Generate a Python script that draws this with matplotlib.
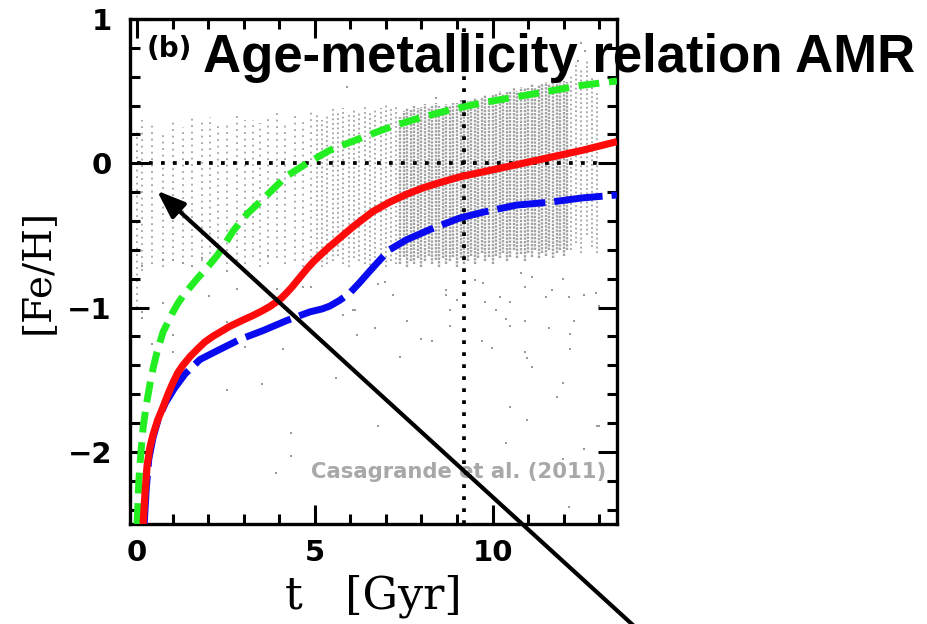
import numpy as np
import matplotlib
matplotlib.use("Agg")
import matplotlib.pyplot as plt
from matplotlib.ticker import MultipleLocator

# model age-metallicity relations, t [Gyr] vs [Fe/H]
green_t = [0.0, 0.05, 0.1, 0.17, 0.27, 0.37, 0.46, 0.56, 0.73, 0.87, 1.01, 1.15, 1.29, 1.49,
           1.69, 1.87, 2.05, 2.25, 2.42, 2.7, 3.1, 3.4, 3.74, 4.2, 4.78, 5.42, 6.35, 7.0, 7.75,
           8.8, 9.72, 10.67, 11.6, 12.5, 13.5]
green_feh = [-2.5, -2.2, -2.03, -1.83, -1.66, -1.52, -1.41, -1.31, -1.17, -1.1, -1.03, -0.97,
             -0.92, -0.86, -0.8, -0.75, -0.7, -0.64, -0.58, -0.47, -0.35, -0.28, -0.2, -0.09,
             0.0, 0.09, 0.18, 0.24, 0.30, 0.37, 0.42, 0.46, 0.50, 0.54, 0.57]

red_t = [0.17, 0.22, 0.28, 0.36, 0.45, 0.58, 0.73, 0.87, 1.01, 1.15, 1.29, 1.49, 1.69, 1.9,
         2.13, 2.61, 2.95, 3.26, 3.5, 3.72, 3.9, 4.06, 4.2, 4.35, 4.5, 4.65, 4.8, 4.97, 5.14,
         5.38, 5.62, 6.1, 6.63, 7.1, 7.58, 8.05, 8.5, 9.07, 9.72, 10.67, 11.6, 12.53, 13.5]
red_feh = [-2.5, -2.3, -2.1, -1.97, -1.88, -1.78, -1.69, -1.6, -1.52, -1.45, -1.4, -1.34,
           -1.29, -1.24, -1.2, -1.13, -1.09, -1.055, -1.025, -0.995, -0.965, -0.935, -0.9,
           -0.86, -0.815, -0.77, -0.725, -0.68, -0.64, -0.585, -0.535, -0.435, -0.335, -0.27,
           -0.215, -0.17, -0.135, -0.095, -0.06, -0.01, 0.04, 0.09, 0.15]

blue_t = [0.2, 0.26, 0.33, 0.45, 0.6, 0.8, 1.05, 1.35, 1.77, 2.33, 2.9, 3.54, 4.21, 4.86, 5.2,
          5.42, 5.7, 5.98, 6.25, 6.5, 6.83, 7.1, 7.58, 8.23, 9.07, 9.72, 10.67, 11.6, 12.53,
          13.5]
blue_feh = [-2.5, -2.25, -2.05, -1.9, -1.77, -1.66, -1.56, -1.46, -1.36, -1.29, -1.22, -1.16,
            -1.09, -1.03, -1.01, -0.99, -0.95, -0.9, -0.83, -0.76, -0.67, -0.6, -0.53, -0.46,
            -0.38, -0.34, -0.29, -0.27, -0.24, -0.22]

# Casagrande et al. (2011) stars, binned in age: column extent in [Fe/H]
sparse_t = [0.0, 0.14, 0.42, 0.73, 1.01, 1.29, 1.55, 1.82, 2.05, 2.28, 2.53, 2.81, 3.03, 3.26,
            3.46, 3.68, 3.93, 4.16, 4.44, 4.66, 4.9]
sparse_hi = [0.22, 0.3, 0.28, 0.22, 0.3, 0.25, 0.33, 0.3, 0.32, 0.28, 0.27, 0.33, 0.3, 0.3,
             0.28, 0.32, 0.35, 0.28, 0.33, 0.3, 0.36]
sparse_lo = [-1.0, -0.75, -0.7, -0.72, -0.68, -0.7, -0.65, -0.68, -0.72, -0.66, -0.7, -0.68,
             -0.7, -0.65, -0.72, -0.7, -0.66, -0.7, -0.68, -0.72, -0.7]

mid_t = [5.05, 5.2, 5.35, 5.5, 5.65, 5.8, 5.95, 6.1, 6.25, 6.4, 6.55, 6.7, 6.85, 7.0, 7.15,
         7.28]
mid_hi = [0.35, 0.3, 0.33, 0.4, 0.36, 0.38, 0.34, 0.37, 0.36, 0.4, 0.35, 0.37, 0.38, 0.42,
          0.39, 0.4]
mid_lo = [-0.66, -0.72, -0.7, -0.68, -0.64, -0.7, -0.72, -0.66, -0.68, -0.7, -0.74, -0.66,
          -0.7, -0.72, -0.68, -0.7]

dense_t = [7.4, 7.5, 7.6, 7.7, 7.8, 7.9, 8.0, 8.1, 8.2, 8.3, 8.4, 8.5, 8.6, 8.7, 8.8, 8.9,
           9.0, 9.1, 9.2, 9.3, 9.4, 9.5, 9.6, 9.7, 9.8, 9.9, 10.0, 10.1, 10.2, 10.3, 10.4, 10.5,
           10.6, 10.7, 10.8, 10.9, 11.0, 11.1, 11.2, 11.3, 11.4, 11.5, 11.6, 11.7, 11.8, 11.9,
           12.0, 12.1]
dense_hi = [0.32, 0.36, 0.38, 0.37, 0.4, 0.38, 0.39, 0.41, 0.38, 0.4, 0.42, 0.4, 0.38, 0.41,
            0.4, 0.42, 0.42, 0.44, 0.41, 0.43, 0.44, 0.45, 0.43, 0.46, 0.47, 0.45, 0.47, 0.48,
            0.5, 0.48, 0.5, 0.5, 0.52, 0.5, 0.53, 0.52, 0.52, 0.55, 0.53, 0.54, 0.55, 0.56,
            0.55, 0.57, 0.56, 0.58, 0.57, 0.56]
dense_lo = [-0.7, -0.65, -0.72, -0.68, -0.7, -0.66, -0.72, -0.68, -0.64, -0.7, -0.67, -0.72,
            -0.66, -0.7, -0.68, -0.65, -0.72, -0.66, -0.7, -0.68, -0.64, -0.7, -0.66, -0.62,
            -0.68, -0.65, -0.7, -0.64, -0.66, -0.62, -0.68, -0.65, -0.6, -0.66, -0.63, -0.68,
            -0.62, -0.65, -0.6, -0.66, -0.62, -0.64, -0.6, -0.66, -0.62, -0.6, -0.64, -0.6]

tail_t = [12.2, 12.35, 12.5, 12.65, 12.8, 12.95]
tail_hi = [0.62, 0.7, 0.66, 0.72, 0.6, 0.5]
tail_lo = [-0.6, -0.55, -0.62, -0.5, -0.58, -0.62]

# isolated stars outside the main band
out_t = [0.14, 0.14, 0.42, 0.73, 1.01, 1.01, 2.02, 2.53, 2.53, 3.03, 3.51, 4.1, 4.33, 4.33,
         3.9, 2.81, 3.93, 4.66, 4.9, 6.12, 6.2, 5.6, 6.77, 7.39, 7.58, 6.69, 8.0, 8.29, 8.79,
         9.69, 9.97, 10.39, 10.48, 10.9, 11.6, 12.28, 12.19, 12.19, 10.9, 10.98, 11.1, 11.97,
         11.8, 10.48, 10.98, 12.99, 8.7, 8.7, 9.0, 8.8, 9.8, 10.1, 10.5, 10.2, 10.9, 7.2, 6.97,
         6.77, 11.5, 11.66, 12.16, 12.58, 12.92, 12.98, 11.1, 10.8, 11.97, 9.72, 9.5, 5.8,
         6.07, 10.39, 12.58, 12.95, 12.16, 11.97, 2.53, 3.68, 1.29, 1.55, 0.14, 0.73, 1.01,
         1.82, 5.9, 8.4, 12.5, 12.6, 12.1, 12.4]
out_feh = [-1.03, -1.07, -1.25, -0.97, -1.19, -1.31, -0.92, -1.1, -1.57, -1.27, -1.53, -1.29,
           -1.87, -2.03, -2.15, -0.87, -0.87, -0.86, -0.86, -1.02, -1.19, -1.49, -1.82, -1.34,
           -1.09, -1.14, -1.22, -1.23, -1.13, -1.23, -1.28, -1.08, -1.13, -1.09, -1.14, -1.09,
           -1.18, -1.29, -1.31, -1.35, -1.41, -1.52, -1.62, -1.69, -1.78, -1.82, -0.88, -0.91,
           -0.95, -1.02, -0.96, -1.02, -0.96, -0.93, -0.86, -0.91, -0.82, -0.84, -0.93, -0.88,
           -0.93, -0.91, -0.9, -0.99, -0.79, -0.76, -0.8, -0.83, -0.81, -1.05, -1.02, -1.94,
           -1.98, -1.82, -2.38, -2.05, -0.75, -0.64, -0.69, -0.71, -0.71, -0.67, -0.67, -0.66,
           0.53, 0.45, 0.83, 0.78, 0.73, 0.71]

t_sun = 9.2

fig = plt.figure(figsize=(9.27, 6.24), dpi=100)
ax = fig.add_axes([0.1402, 0.1603, 0.5254, 0.8093])

grey = "#a2a2a2"
ax.vlines(sparse_t, sparse_lo, sparse_hi, colors=grey, lw=1.3, linestyles=(0, (1, 2.6)), zorder=1)
ax.vlines(mid_t, mid_lo, mid_hi, colors=grey, lw=1.3, linestyles=(0, (1, 1.6)), zorder=1)
ax.vlines(dense_t, dense_lo, dense_hi, colors=grey, lw=1.7, linestyles=(0, (1, 0.5)), zorder=1)
ax.vlines(tail_t, tail_lo, tail_hi, colors=grey, lw=1.3, linestyles=(0, (1, 1.5)), zorder=1)
ax.scatter(out_t, out_feh, s=4, marker="s", color="#9a9a9a", linewidths=0, zorder=1)

# reference lines: solar metallicity and solar age
ax.hlines(0, 0, 13.0, colors="black", lw=2.7, linestyles=(0, (1, 2.2)), zorder=2)
ax.vlines(t_sun, -2.5, 0.97, colors="black", lw=2.7, linestyles=(0, (1, 2.2)), zorder=2)

ax.plot(green_t, green_feh, color="#22ee22", lw=5, dashes=(3.0, 1.4), zorder=3)
ax.plot(blue_t, blue_feh, color="#0a0af0", lw=5, dashes=(7.0, 1.3), zorder=4)
ax.plot(red_t, red_feh, color="#ff0a0a", lw=5.2, solid_capstyle="butt", zorder=5)

ax.set_xlim(-0.2, 13.5)
ax.set_ylim(-2.5, 1.0)
ax.xaxis.set_major_locator(MultipleLocator(5))
ax.xaxis.set_minor_locator(MultipleLocator(1))
ax.yaxis.set_major_locator(MultipleLocator(1))
ax.yaxis.set_minor_locator(MultipleLocator(0.2))
ax.set_yticks([-2, -1, 0, 1])
ax.set_yticklabels(["\u22122", "\u22121", "0", "1"])
ax.tick_params(which="both", direction="in", top=True, right=True, width=2.2, color="black")
ax.tick_params(which="major", length=14, labelsize=21)
ax.tick_params(which="minor", length=7)
ax.tick_params(axis="x", which="major", pad=11)
ax.tick_params(axis="y", which="major", pad=13)
for lab in ax.get_xticklabels() + ax.get_yticklabels():
    lab.set_fontweight("bold")
for sp in ax.spines.values():
    sp.set_linewidth(2.4)

ax.set_xlabel("t   [Gyr]", family="DejaVu Serif", fontsize=32)
ax.set_ylabel("[Fe/H]", family="DejaVu Serif", fontsize=28)
ax.xaxis.set_label_coords(0.5, -0.1)
ax.yaxis.set_label_coords(-0.152, 0.5)

ax.text(0.28, 0.79, "(b)", fontsize=20, fontweight="bold", va="center", ha="left", zorder=6)
ax.text(13.2, -2.14, "Casagrande et al. (2011)", fontsize=15.2, fontweight="bold",
        color="#a8a8a8", ha="right", va="center", zorder=6)

fig.text(203 / 927, 1 - 72 / 624, "Age-metallicity relation AMR", family="Liberation Sans",
         fontsize=38, fontweight="bold", va="baseline", ha="left", zorder=10)

ax.annotate("", xy=(0.56, -0.19), xycoords="data", xytext=(0.683, -0.002),
            textcoords="figure fraction", annotation_clip=False,
            arrowprops=dict(arrowstyle="-|>,head_length=0.85,head_width=0.32", lw=3,
                            color="black", shrinkA=0, shrinkB=0, mutation_scale=20),
            zorder=8)

fig.savefig("out.png", dpi=100)
